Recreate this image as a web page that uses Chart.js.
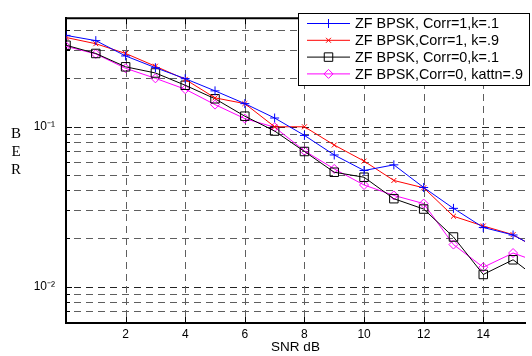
<!DOCTYPE html>
<html>
<head>
<meta charset="utf-8">
<script src="https://cdn.jsdelivr.net/npm/chart.js@4"></script>
<style>
html, body { margin: 0; padding: 0; background: #fff; overflow: hidden; }
#wrap { position: relative; width: 532px; height: 356px; }
</style>
</head>
<body>
<div id="wrap"><canvas id="myChart"></canvas></div>
<script>
// SNR values (dB); the plot is cut at the right edge, so 16 is only partly seen
var snr = [0, 1, 2, 3, 4, 5, 6, 7, 8, 9, 10, 11, 12, 13, 14, 15, 16];

// BER
var berCorr1K1   = [0.371, 0.344, 0.276, 0.233, 0.199, 0.167, 0.139, 0.113, 0.088, 0.0664, 0.0531, 0.0576, 0.0416, 0.0308, 0.0234, 0.0210, 0.0167];
var berCorr1K9   = [0.360, 0.329, 0.286, 0.238, 0.197, 0.151, 0.139, 0.0996, 0.0996, 0.0766, 0.0608, 0.0460, 0.0414, 0.0275, 0.0239, 0.0211, 0.0165];
var berCorr0K1   = [0.322, 0.286, 0.236, 0.216, 0.181, 0.149, 0.116, 0.0937, 0.0698, 0.0518, 0.0482, 0.0354, 0.0305, 0.0204, 0.0119, 0.0147, 0.0106];
var berCorr0Katt = [0.317, 0.284, 0.231, 0.200, 0.171, 0.137, 0.112, 0.0990, 0.0705, 0.0543, 0.0431, 0.0371, 0.0330, 0.0183, 0.0132, 0.0162, 0.0139];

var seriesNames = [
    'ZF BPSK, Corr=1,k=.1',
    'ZF BPSK,Corr=1, k=.9',
    'ZF BPSK, Corr=0,k=.1',
    'ZF BPSK,Corr=0, kattn=.9'
];

var xTickValues = [2, 4, 6, 8, 10, 12, 14];
var yTickValues = [0.007, 0.008, 0.009, 0.01, 0.02, 0.03, 0.04, 0.05, 0.06, 0.07, 0.08, 0.09, 0.1, 0.2, 0.3, 0.4];
var yTickLabels = { '0.1': '10\u207B\u00B9', '0.01': '10\u207B\u00B2' };

var sansFont = '"Liberation Sans", Arial, sans-serif';

function toPoints(values) {
    return values.map(function (v, i) { return { x: snr[i], y: v }; });
}

function isMajor(v) {
    return Math.abs(v - 0.1) < 1e-9 || Math.abs(v - 0.01) < 1e-9;
}

var styles = [
    { color: '#0000ff', pointStyle: 'cross',    radius: 4.5 },
    { color: '#ff0000', pointStyle: 'crossRot', radius: 3.5 },
    { color: '#000000', pointStyle: 'rect',     radius: 6 },
    { color: '#ff00ff', pointStyle: 'rectRot',  radius: 4.5 }
];
var allSeries = [berCorr1K1, berCorr1K9, berCorr0K1, berCorr0Katt];

var datasets = allSeries.map(function (vals, i) {
    return {
        label: seriesNames[i],
        data: toPoints(vals),
        borderColor: styles[i].color,
        backgroundColor: 'rgba(0,0,0,0)',
        borderWidth: 1,
        pointStyle: styles[i].pointStyle,
        pointRadius: styles[i].radius,
        pointBorderColor: styles[i].color,
        pointBackgroundColor: 'rgba(0,0,0,0)',
        pointBorderWidth: 1,
        tension: 0
    };
});

// dashed grid drawn from the scales (Chart.js grid dashes did not show)
var dashedGrid = {
    id: 'dashedGrid',
    beforeDatasetsDraw: function (chart) {
        var ctx = chart.ctx;
        var area = chart.chartArea;
        var xs = chart.scales.x, ys = chart.scales.y;
        ctx.save();
        ctx.lineWidth = 1;
        ctx.setLineDash([7, 5]);
        yTickValues.forEach(function (v) {
            var py = Math.round(ys.getPixelForValue(v)) + 0.5;
            ctx.strokeStyle = isMajor(v) ? '#222' : '#5e5e5e';
            ctx.lineDashOffset = -8;
            ctx.beginPath();
            ctx.moveTo(area.left, py); ctx.lineTo(area.right, py);
            ctx.stroke();
        });
        ctx.strokeStyle = '#5e5e5e';
        xTickValues.forEach(function (v) {
            var px = Math.round(xs.getPixelForValue(v)) + 0.5;
            ctx.lineDashOffset = -6;
            ctx.beginPath();
            ctx.moveTo(px, area.bottom); ctx.lineTo(px, area.top);
            ctx.stroke();
        });
        ctx.restore();
    }
};

// frame, inner ticks, y label and the boxed legend, MATLAB style
var matlabFrame = {
    id: 'matlabFrame',
    afterDraw: function (chart) {
        var ctx = chart.ctx;
        var area = chart.chartArea;
        var xs = chart.scales.x, ys = chart.scales.y;
        ctx.save();
        ctx.strokeStyle = '#000';
        ctx.lineWidth = 2;
        ctx.beginPath();
        ctx.moveTo(area.left, area.top);
        ctx.lineTo(area.right, area.top);
        ctx.stroke();

        ctx.lineWidth = 1;
        ctx.beginPath();
        xTickValues.forEach(function (v) {
            var px = Math.round(xs.getPixelForValue(v)) + 0.5;
            ctx.moveTo(px, area.bottom); ctx.lineTo(px, area.bottom - 6);
            ctx.moveTo(px, area.top); ctx.lineTo(px, area.top + 6);
        });
        yTickValues.forEach(function (v) {
            var py = Math.round(ys.getPixelForValue(v)) + 0.5;
            ctx.moveTo(area.left, py); ctx.lineTo(area.left + (isMajor(v) ? 6 : 4), py);
        });
        ctx.stroke();

        // stacked y label
        ctx.fillStyle = '#000';
        ctx.font = '15px "Liberation Serif", "Times New Roman", serif';
        ctx.textAlign = 'center';
        ctx.textBaseline = 'middle';
        ['B', 'E', 'R'].forEach(function (ch, i) {
            ctx.fillText(ch, 16, 134 + i * 18);
        });

        // legend
        var bx = 298, by = 13, bw = 231, bh = 72;
        ctx.fillStyle = '#fff';
        ctx.fillRect(bx, by, bw, bh);
        ctx.strokeStyle = '#000';
        ctx.lineWidth = 1;
        ctx.strokeRect(bx + 0.5, by + 0.5, bw, bh);
        ctx.font = '14.4px ' + sansFont;
        ctx.textAlign = 'left';
        chart.data.datasets.forEach(function (ds, i) {
            var ry = by + 10.5 + i * 16.8;
            ctx.strokeStyle = ds.borderColor;
            ctx.lineWidth = 1;
            ctx.beginPath();
            ctx.moveTo(307, ry); ctx.lineTo(350, ry);
            ctx.stroke();
            ctx.fillStyle = 'rgba(0,0,0,0)';
            Chart.helpers.drawPoint(ctx, {
                pointStyle: ds.pointStyle, radius: ds.pointRadius, rotation: 0, borderWidth: 1
            }, 328.5, ry);
            ctx.fillStyle = '#000';
            ctx.fillText(ds.label, 355, ry + 1);
        });
        ctx.restore();
    }
};

var ctx = document.getElementById('myChart').getContext('2d');
var myChart = new Chart(ctx, {
    type: 'line',
    data: { datasets: datasets },
    plugins: [dashedGrid, matlabFrame],
    options: {
        responsive: true,
        maintainAspectRatio: false,
        animation: false,
        layout: { padding: { top: 5, right: 0, left: 0, bottom: 0 } },
        plugins: { legend: { display: false }, tooltip: { enabled: false } },
        scales: {
            x: {
                type: 'linear',
                min: 0,
                max: 15.4,
                afterBuildTicks: function (scale) {
                    scale.ticks = xTickValues.map(function (v) { return { value: v }; });
                },
                afterFit: function (scale) { scale.height = 33; },
                grid: { display: false, drawTicks: false },
                border: { display: true, color: '#000', width: 2 },
                ticks: {
                    color: '#000', padding: 4, maxRotation: 0, autoSkip: false,
                    font: { family: sansFont, size: 12 }
                },
                title: {
                    display: true, text: 'SNR dB', color: '#000',
                    font: { family: sansFont, size: 13.5 },
                    padding: { top: 0, bottom: 1 }
                }
            },
            y: {
                type: 'logarithmic',
                min: 0.00592,
                max: 0.475,
                bounds: 'data',
                afterBuildTicks: function (scale) {
                    scale.ticks = yTickValues.map(function (v) { return { value: v }; });
                },
                afterFit: function (scale) { scale.width = 66; },
                grid: { display: false, drawTicks: false },
                border: { display: true, color: '#000', width: 2 },
                ticks: {
                    color: '#000', padding: 11, autoSkip: false,
                    font: { family: sansFont, size: 12 },
                    callback: function (v) {
                        for (var k in yTickLabels) {
                            if (Math.abs(v - parseFloat(k)) < 1e-9) return yTickLabels[k];
                        }
                        return '';
                    }
                }
            }
        }
    }
});
</script>
</body>
</html>
